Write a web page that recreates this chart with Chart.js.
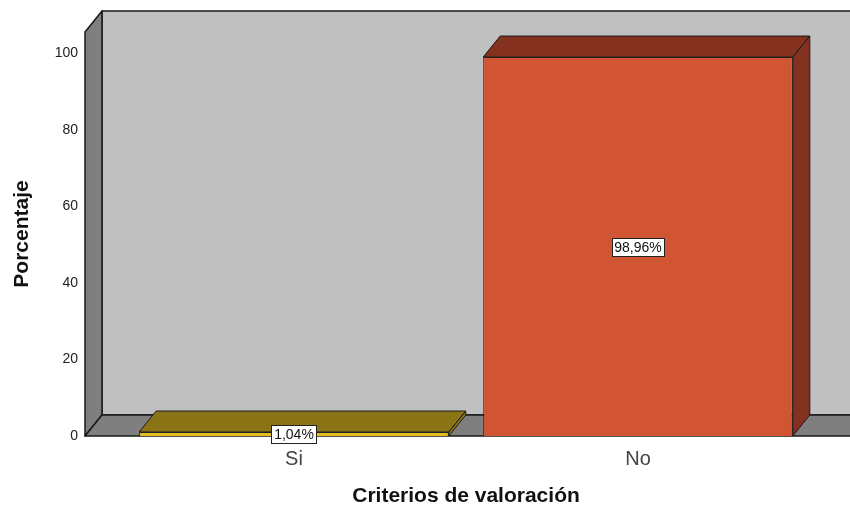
<!DOCTYPE html>
<html>
<head>
<meta charset="utf-8">
<script src="https://cdn.jsdelivr.net/npm/chart.js@4"></script>
<style>
  html, body { margin: 0; padding: 0; background: #fff; }
  #wrap { width: 850px; height: 511px; }
</style>
</head>
<body>
<div id="wrap"><canvas id="chart" width="850" height="511"></canvas></div>
<script>
// datos
const categorias = ["Si", "No"];
const porcentajes = [1.04, 98.96];
const ticksY = [0, 20, 40, 60, 80, 100];

const coloresFrente = ["#e2bd1c", "#d15433"];
const coloresFondo = ["#8b7416", "#85311f"];

// profundidad 3D
const DX = 17;
const DY = -21;
const FRONT_GAP = 37; // distancia del eje a la pared lateral

const FONT = "'Liberation Sans', Arial, sans-serif";

const fmt = v => v.toFixed(2).replace(".", ",") + "%";

const depth3d = {
  id: "depth3d",
  beforeDatasetsDraw(chart) {
    const { ctx, chartArea: a, width } = chart;
    const fl = a.left - FRONT_GAP;
    ctx.save();
    ctx.lineWidth = 1.5;
    ctx.strokeStyle = "#1a1a1a";
    ctx.lineJoin = "round";

    // pared trasera
    ctx.fillStyle = "#c0c0c0";
    ctx.beginPath();
    ctx.moveTo(fl + DX, a.top + DY);
    ctx.lineTo(width + 2, a.top + DY);
    ctx.lineTo(width + 2, a.bottom + DY);
    ctx.lineTo(fl + DX, a.bottom + DY);
    ctx.closePath();
    ctx.fill();
    ctx.stroke();

    // pared lateral
    ctx.fillStyle = "#7f7f7f";
    ctx.beginPath();
    ctx.moveTo(fl, a.top);
    ctx.lineTo(fl + DX, a.top + DY);
    ctx.lineTo(fl + DX, a.bottom + DY);
    ctx.lineTo(fl, a.bottom);
    ctx.closePath();
    ctx.fill();
    ctx.stroke();

    // suelo
    ctx.beginPath();
    ctx.moveTo(fl, a.bottom);
    ctx.lineTo(fl + DX, a.bottom + DY);
    ctx.lineTo(width + 2, a.bottom + DY);
    ctx.lineTo(width + 2, a.bottom);
    ctx.closePath();
    ctx.fill();
    ctx.stroke();

    // caras superiores y laterales de las barras
    const meta = chart.getDatasetMeta(0);
    meta.data.forEach((bar, i) => {
      const l = bar.x - bar.width / 2;
      const r = bar.x + bar.width / 2;
      const t = bar.y;
      const b = bar.base;
      ctx.fillStyle = coloresFondo[i];
      ctx.lineWidth = 1;
      ctx.beginPath();
      ctx.moveTo(l, t);
      ctx.lineTo(l + DX, t + DY);
      ctx.lineTo(r + DX, t + DY);
      ctx.lineTo(r, t);
      ctx.closePath();
      ctx.fill();
      ctx.stroke();
      ctx.beginPath();
      ctx.moveTo(r, t);
      ctx.lineTo(r + DX, t + DY);
      ctx.lineTo(r + DX, b + DY);
      ctx.lineTo(r, b);
      ctx.closePath();
      ctx.fill();
      ctx.stroke();
    });
    ctx.restore();
  },
  afterDatasetsDraw(chart) {
    const { ctx } = chart;
    const meta = chart.getDatasetMeta(0);
    ctx.save();
    ctx.font = "14px " + FONT;
    ctx.textAlign = "center";
    ctx.textBaseline = "middle";
    meta.data.forEach((bar, i) => {
      const txt = fmt(porcentajes[i]);
      const w = Math.round(ctx.measureText(txt).width) + 6;
      const h = 19;
      const cx = Math.round(bar.x);
      const cy = Math.round((bar.y + bar.base) / 2);
      const x0 = Math.round(cx - w / 2);
      const y0 = Math.round(cy - h / 2);
      ctx.fillStyle = "#fff";
      ctx.strokeStyle = "#222";
      ctx.lineWidth = 1;
      ctx.fillRect(x0, y0, w, h);
      ctx.strokeRect(x0 + 0.5, y0 + 0.5, w - 1, h - 1);
      ctx.fillStyle = "#111";
      ctx.fillText(txt, cx, cy + 1);
    });
    ctx.restore();
  }
};

new Chart(document.getElementById("chart"), {
  type: "bar",
  data: {
    labels: categorias,
    datasets: [{
      data: porcentajes,
      backgroundColor: coloresFrente,
      borderColor: "#222",
      borderWidth: 1,
      categoryPercentage: 1,
      barPercentage: 0.9
    }]
  },
  options: {
    responsive: false,
    animation: false,
    layout: { padding: { left: 0, right: 40, top: 32, bottom: 0 } },
    plugins: { legend: { display: false }, tooltip: { enabled: false } },
    scales: {
      x: {
        offset: true,
        grid: { display: false, drawTicks: false },
        border: { display: false },
        ticks: { color: "#444", font: { family: FONT, size: 20 }, padding: 11, maxRotation: 0 },
        title: {
          display: true,
          text: "Criterios de valoración",
          color: "#111",
          font: { family: FONT, size: 21, weight: "bold" },
          padding: { top: 0, bottom: 2 }
        },
        afterFit(scale) { scale.height = 75; }
      },
      y: {
        min: 0,
        max: 105.5,
        // tickLength separa las etiquetas de la pared lateral (sin dibujar marcas)
        grid: { display: false, drawTicks: true, tickLength: 40 },
        border: { display: false },
        ticks: { color: "#222", font: { family: FONT, size: 14 }, padding: 4 },
        afterBuildTicks(scale) {
          scale.ticks = ticksY.map(v => ({ value: v }));
        },
        title: {
          display: true,
          text: "Porcentaje",
          color: "#111",
          font: { family: FONT, size: 21, weight: "bold" },
          padding: { top: 10, bottom: 0 }
        },
        afterFit(scale) { scale.width = 122; }
      }
    }
  },
  plugins: [depth3d]
});
</script>
</body>
</html>
